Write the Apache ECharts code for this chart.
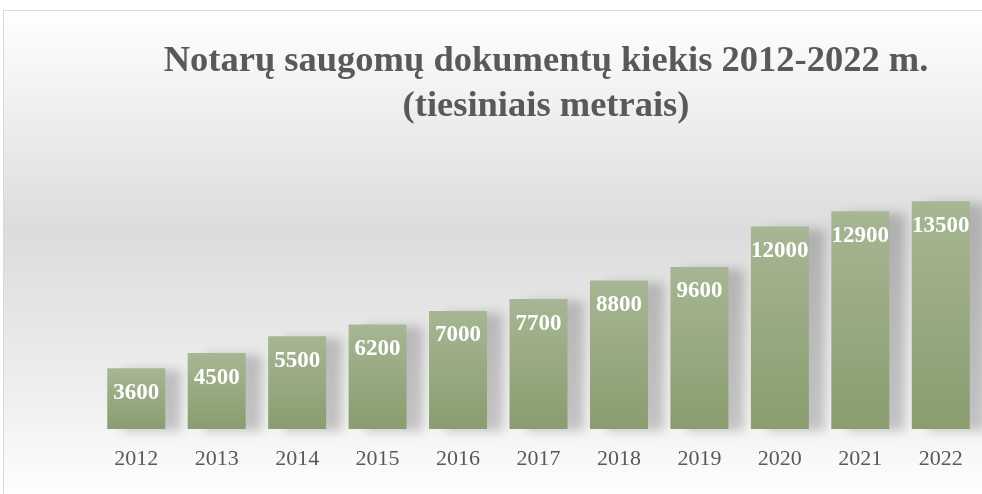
<!DOCTYPE html>
<html>
<head>
<meta charset="utf-8">
<script src="https://cdn.jsdelivr.net/npm/echarts@6/dist/echarts.min.js"></script>
<style>
  html, body { margin: 0; padding: 0; background: #fff; }
  #chart { width: 982px; height: 494px; }
</style>
</head>
<body>
<div id="chart"></div>
<script>
// metai ir saugomų dokumentų kiekis (tiesiniai metrai)
const years = ['2012', '2013', '2014', '2015', '2016', '2017', '2018', '2019', '2020', '2021', '2022'];
const meters = [3600, 4500, 5500, 6200, 7000, 7700, 8800, 9600, 12000, 12900, 13500];

const chart = echarts.init(document.getElementById('chart'));
const serif = '"Liberation Serif", "DejaVu Serif", serif';

const option = {
  animation: false,
  graphic: [{
    type: 'rect',
    left: 3, top: 10,
    shape: { width: 985, height: 490 },
    z: -10,
    style: {
      fill: {
        type: 'linear', x: 0, y: 0, x2: 0, y2: 1,
        colorStops: [
          { offset: 0, color: '#ffffff' },
          { offset: 0.45, color: '#dcdcdc' },
          { offset: 0.8, color: '#f0f0f0' },
          { offset: 1, color: '#ffffff' }
        ]
      },
      stroke: '#d9d9d9',
      lineWidth: 1
    }
  }],
  title: {
    text: 'Notarų saugomų dokumentų kiekis 2012-2022 m.\n(tiesiniais metrais)',
    left: 541,
    top: 34,
    textAlign: 'center',
    textStyle: {
      fontFamily: serif,
      fontWeight: 'bold',
      fontSize: 36.5,
      color: '#595959',
      lineHeight: 45
    }
  },
  grid: { left: 96, right: 1, top: 159, bottom: 65 },
  xAxis: {
    type: 'category',
    data: years,
    axisLine: { show: false },
    axisTick: { show: false },
    axisLabel: {
      fontFamily: serif,
      fontSize: 22,
      color: '#595959',
      margin: 19
    }
  },
  yAxis: {
    type: 'value',
    min: 0,
    max: 16000,
    show: false,
    splitLine: { show: false }
  },
  series: [{
    type: 'bar',
    data: meters,
    barWidth: 58,
    itemStyle: {
      color: {
        type: 'linear', x: 0, y: 0, x2: 0, y2: 1,
        colorStops: [
          { offset: 0, color: '#a7b693' },
          { offset: 1, color: '#899d6f' }
        ]
      },
      shadowColor: 'rgba(0,0,0,0.2)',
      shadowBlur: 10,
      shadowOffsetX: 16,
      shadowOffsetY: 2
    },
    label: {
      show: true,
      position: 'insideTop',
      distance: 13,
      fontFamily: serif,
      fontWeight: 'bold',
      fontSize: 23,
      color: '#ffffff'
    }
  }]
};

chart.setOption(option);
</script>
</body>
</html>
